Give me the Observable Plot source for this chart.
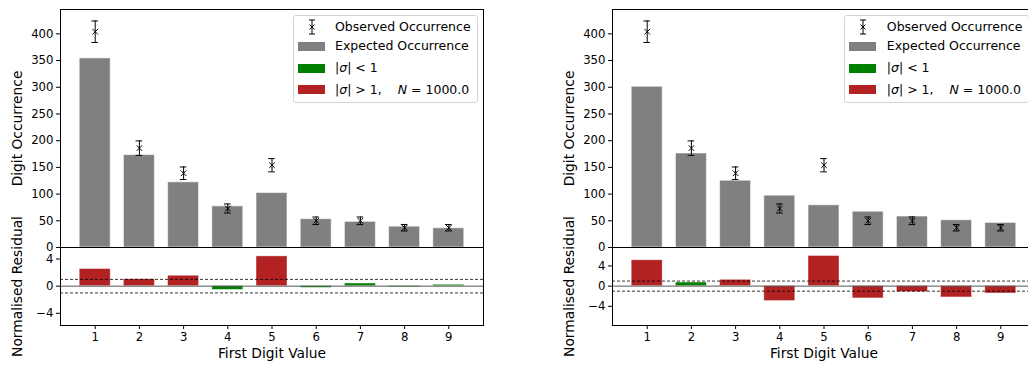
<!DOCTYPE html>
<html><head><meta charset="utf-8">
<script src="https://cdn.jsdelivr.net/npm/d3@7"></script>
<script src="https://cdn.jsdelivr.net/npm/@observablehq/plot@0.6"></script>
<style>
html,body{margin:0;padding:0;background:#fff;overflow:hidden;width:1028px;height:365px;}
#wrap{position:relative;width:1028px;height:365px;overflow:hidden;font-family:"DejaVu Sans",sans-serif;color:#000;}
.pl{position:absolute;width:500px;}
.pl svg{display:block;max-width:none !important;}
.legend{position:absolute;width:185px;height:88px;border:1px solid #d4d4d4;border-radius:3px;background:rgba(255,255,255,0.8);font-size:12.5px;box-sizing:border-box;}
.legend .row{position:absolute;left:0;height:20px;width:100%;}
.legend .sw{position:absolute;left:4px;width:27px;height:9px;top:5.5px;}
.legend .tx{position:absolute;left:41.5px;top:0;line-height:20px;white-space:nowrap;}
.legend svg{position:absolute;left:10px;top:0;}
</style>
</head><body>
<div id="wrap"></div>
<script>
// ---- data ----
const digits = [1, 2, 3, 4, 5, 6, 7, 8, 9];
const observed = [404, 186, 139, 73, 154, 50, 50, 37, 37];
const observedErr = [20.1, 13.6, 11.8, 8.5, 12.4, 7.1, 7.1, 6.1, 6.1];
const expectedLeft = [354, 173, 122, 77, 102, 53, 48, 39, 36];
const expectedRight = [301, 176, 125, 97, 79, 67, 58, 51, 46];
const residualLeft = [2.52, 1.02, 1.53, -0.55, 4.39, -0.25, 0.39, -0.15, 0.2];
const residualRight = [5.12, 0.71, 1.24, -2.95, 5.96, -2.43, -1.18, -2.24, -1.45];
const occurrenceTicks = [0, 50, 100, 150, 200, 250, 300, 350, 400];
const residualTicks = [-4, 0, 4];
const sigmaBands = [-1, 1];
const legendLabels = ["Observed Occurrence", "Expected Occurrence", "|<i>σ</i>| &lt; 1", "|<i>σ</i>| &gt; 1,<span style=\"margin-left:16px\"><i>N</i></span> = 1000.0"];

const GRAY = "#808080", RED = "#b22222", GREEN = "#008000";
const XDOM = [0.215, 9.785];
const baseStyle = {fontFamily: "'DejaVu Sans', sans-serif", fontSize: "11.7px", background: "transparent", overflow: "visible", color: "black", maxWidth: "none"};

function topPlot(expected) {
  const data = digits.map((d, i) => ({digit: d, exp: expected[i], obs: observed[i], err: observedErr[i]}));
  return Plot.plot({
    width: 500, height: 247, marginLeft: 60, marginRight: 17, marginTop: 9, marginBottom: 0,
    style: baseStyle,
    x: {domain: XDOM, axis: null},
    y: {domain: [0, 445.6], ticks: occurrenceTicks, tickSize: 4, tickPadding: 3, label: null},
    marks: [
      Plot.rect(data, {x1: d => d.digit - 0.35, x2: d => d.digit + 0.35, y1: 0, y2: "exp", fill: GRAY, stroke: "white", strokeOpacity: 0.55, strokeWidth: 1}),
      Plot.ruleX(data, {x: "digit", y1: d => d.obs - d.err, y2: d => d.obs + d.err, stroke: "black", strokeWidth: 1}),
      Plot.ruleY(data, {y: d => d.obs + d.err, x1: d => d.digit - 0.075, x2: d => d.digit + 0.075, stroke: "black", strokeWidth: 1}),
      Plot.ruleY(data, {y: d => d.obs - d.err, x1: d => d.digit - 0.075, x2: d => d.digit + 0.075, stroke: "black", strokeWidth: 1}),
      Plot.dot(data, {x: "digit", y: "obs", symbol: "times", r: 2.6, stroke: "black", strokeWidth: 1}),
      Plot.frame({stroke: "black", strokeWidth: 1}),
      Plot.text(["Digit Occurrence"], {frameAnchor: "left", dx: -42.5, rotate: -90, textAnchor: "middle", lineAnchor: "middle", fontSize: 13.8, fill: "black"})
    ]
  });
}

function bottomPlot(resid, ydom) {
  const data = digits.map((d, i) => ({digit: d, r: resid[i]}));
  return Plot.plot({
    width: 500, height: 118, marginLeft: 60, marginRight: 17, marginTop: 0, marginBottom: 40,
    style: baseStyle,
    color: {type: "identity"},
    x: {domain: XDOM, ticks: digits, tickSize: 4, tickPadding: 3, label: null, tickFormat: d => String(d)},
    y: {domain: ydom, ticks: residualTicks, tickSize: 4, tickPadding: 3, label: null},
    marks: [
      Plot.rect(data, {x1: d => d.digit - 0.35, x2: d => d.digit + 0.35, y1: 0, y2: "r", fill: d => Math.abs(d.r) > 1 ? RED : GREEN, stroke: "white", strokeOpacity: 0.45, strokeWidth: 0.8}),
      Plot.ruleY([0], {stroke: "#555", strokeWidth: 1}),
      Plot.ruleY(sigmaBands, {stroke: "black", strokeWidth: 0.8, strokeDasharray: "3,2"}),
      Plot.frame({stroke: "black", strokeWidth: 1}),
      Plot.text(["Normalised Residual"], {frameAnchor: "left", dx: -42.5, rotate: -90, textAnchor: "middle", lineAnchor: "middle", fontSize: 13.8, fill: "black"}),
      Plot.text(["First Digit Value"], {frameAnchor: "bottom", dy: 28.3, textAnchor: "middle", lineAnchor: "middle", fontSize: 13.8, fill: "black"})
    ]
  });
}

function place(node, left, top) {
  const d = document.createElement("div");
  d.className = "pl";
  d.style.left = left + "px";
  d.style.top = top + "px";
  d.appendChild(node);
  document.getElementById("wrap").appendChild(d);
}

function legend(left, top) {
  const L = document.createElement("div");
  L.className = "legend";
  L.style.left = left + "px";
  L.style.top = top + "px";
  const rowsTop = [1, 20, 42, 63.5];
  const swatches = [null, GRAY, GREEN, RED];
  legendLabels.forEach((lab, i) => {
    const row = document.createElement("div");
    row.className = "row";
    row.style.top = rowsTop[i] + "px";
    if (i === 0) {
      row.innerHTML = '<svg width="16" height="20"><line x1="8" x2="8" y1="3" y2="17" stroke="black" stroke-width="1"/><line x1="5" x2="11" y1="3" y2="3" stroke="black"/><line x1="5" x2="11" y1="17" y2="17" stroke="black"/><path d="M5.5,7.5L10.5,12.5M5.5,12.5L10.5,7.5" stroke="black" stroke-width="1"/></svg>';
    } else {
      const sw = document.createElement("div");
      sw.className = "sw";
      sw.style.background = swatches[i];
      row.appendChild(sw);
    }
    const tx = document.createElement("div");
    tx.className = "tx";
    tx.innerHTML = lab;
    row.appendChild(tx);
    L.appendChild(row);
  });
  document.getElementById("wrap").appendChild(L);
}

place(topPlot(expectedLeft), 0, 0);
place(topPlot(expectedRight), 551.7, 0);
place(bottomPlot(residualLeft, [-5.8, 5.7]), 0, 247);
place(bottomPlot(residualRight, [-7.8, 7.65]), 551.7, 247);
legend(292.5, 15);
legend(844.3, 15);
</script>
</body></html>
